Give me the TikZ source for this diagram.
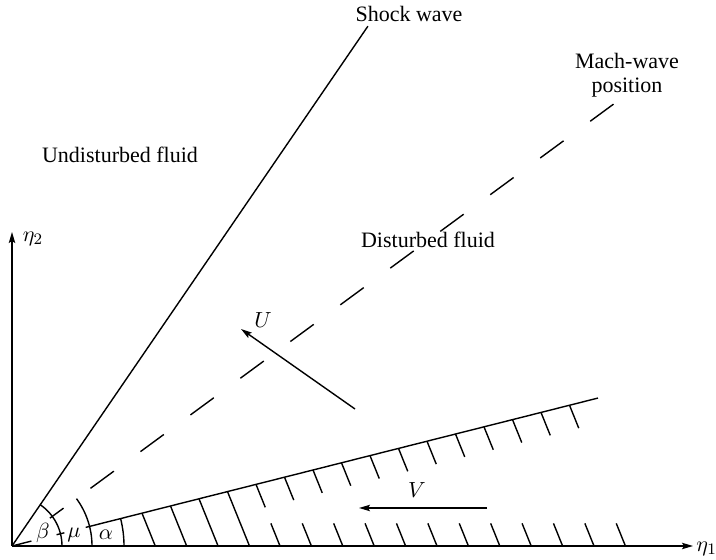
\documentclass[tikz,border=0pt]{standalone}
\usepackage{fontspec}
\setmainfont{Liberation Serif}
\usetikzlibrary{arrows.meta}
\begin{document}
\begin{tikzpicture}[x=0.5pt,y=0.5pt,
  every node/.style={font=\fontsize{11}{12}\selectfont, inner sep=0pt},
  ln/.style={line width=0.7pt},
  hatch/.style={line width=0.7pt},
  arr/.style={line width=0.7pt,-{Stealth[length=5.5pt,width=3.2pt,inset=1pt]}},
  machline/.style={line width=0.7pt, dash pattern=on 14.5pt off 16.5pt}]
\useasboundingbox (-12,-14) rectangle (704,546);
\def\wa{14.17}
\def\ma{36.3}
\def\sa{55.6}
\coordinate (O) at (0,0);
\coordinate (X1) at (681,0);
\coordinate (X2) at (0,314);
% axes
\draw[arr] (O) -- (X1);
\draw[arr] (O) -- (X2);
\node[anchor=west] (eta1) at (684,-3) {$\eta_1$};
\node (eta2) at (21,307) {$\eta_2$};
% shock
\coordinate (S) at (\sa:630);
\draw[ln] (O) -- (S);
\node (shock) at (397,532) {Shock wave};
% Mach line
\coordinate (M0) at (\ma:97.4);
\coordinate (M1) at (\ma:746.4);
\draw[machline] (M0) -- (M1);
\draw[ln] (\ma:47) -- (\ma:64);
\node[align=center] (mach) at (615,471) {Mach-wave\\position};
% wedge
\draw[ln] (O) -- (\wa:20);
\draw[ln] (\wa:46) -- (\wa:54);
\coordinate (W0) at (\wa:76);
\coordinate (W1) at (\wa:604.4);
\draw[ln] (W0) -- (W1);
% arcs
\draw[ln] (50,0) arc[start angle=0,end angle=\sa,radius=25pt];
\draw[ln] (80,0) arc[start angle=0,end angle=\ma,radius=40pt];
\draw[ln] (112,0) arc[start angle=0,end angle=\wa,radius=56pt];
\node (beta) at (31,13) {$\beta$};
\node (mu) at (62,11) {$\mu$};
\node (alpha) at (94,11) {$\alpha$};
% hatching
\foreach \X in {130,158.5,187,215.5}
  \draw[hatch] (\X,{\X*tan(\wa)}) -- ++(-68:{\X*tan(\wa)/sin(68)});
\foreach \k in {0,...,11}
  \draw[hatch] ({244+28.5*\k},{(244+28.5*\k)*tan(\wa)}) -- ++(-68:24.7);
\foreach \k in {0,...,11}
  \draw[hatch] ({268+31.4*\k},0) -- ++(112:24.4);
% region labels
\node (undist) at (108,391) {Undisturbed fluid};
\node (dist) at (416,306) {Disturbed fluid};
% velocities
\coordinate (U0) at (343,137);
\coordinate (U1) at (229,217);
\draw[arr] (U0) -- (U1);
\node (U) at (251,226) {$U$};
\coordinate (V0) at (475,38);
\coordinate (V1) at (347,38);
\draw[arr] (V0) -- (V1);
\node (V) at (405,56) {$V$};
\end{tikzpicture}
\end{document}
